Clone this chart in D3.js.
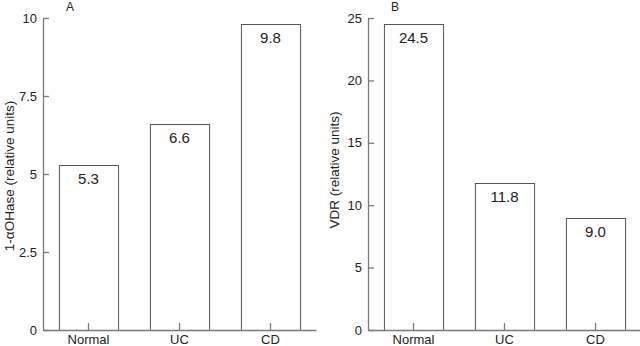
<!DOCTYPE html>
<html>
<head>
<meta charset="utf-8">
<script src="https://cdn.jsdelivr.net/npm/d3@7"></script>
<style>
  html, body { margin: 0; padding: 0; background: #fff; }
  svg { display: block; font-family: "Liberation Sans", Arial, sans-serif; }
</style>
</head>
<body>
<svg id="chart" width="640" height="346"></svg>
<script>
// ---- data ----
const categories = ["Normal", "UC", "CD"];
const valuesA = [5.3, 6.6, 9.8];
const valuesB = [24.5, 11.8, 9.0];
const labelsA = ["5.3", "6.6", "9.8"];
const labelsB = ["24.5", "11.8", "9.0"];
const ticksA = [0, 2.5, 5, 7.5, 10];
const tickLabelsA = ["0", "2.5", "5", "7.5", "10"];
const ticksB = [0, 5, 10, 15, 20, 25];
const tickLabelsB = ["0", "5", "10", "15", "20", "25"];

const svg = d3.select("#chart");
const axisColor = "#7a7a7a";
const barColor = "#555";

function panel(opt) {
  const x = d3.scaleBand().domain(categories).range([opt.x0, opt.x1]).paddingInner(0.35).paddingOuter(0.175);
  const y = d3.scaleLinear().domain([0, opt.max]).range([330, 18]);
  const g = svg.append("g");

  // bars
  g.selectAll("rect.bar").data(opt.values).join("rect")
    .attr("class", "bar")
    .attr("x", (d, i) => x(categories[i]) + 0.5)
    .attr("y", d => Math.round(y(d)) + 0.5)
    .attr("width", x.bandwidth())
    .attr("height", d => y(0) - Math.round(y(d)))
    .attr("fill", "#fff")
    .attr("stroke", barColor)
    .attr("stroke-width", 1);

  // value labels
  g.selectAll("text.val").data(opt.values).join("text")
    .attr("class", "val")
    .attr("x", (d, i) => x(categories[i]) + x.bandwidth() / 2)
    .attr("y", d => y(d) + 19)
    .attr("text-anchor", "middle")
    .attr("font-size", 15)
    .attr("fill", "#222")
    .text((d, i) => opt.labels[i]);

  // y axis
  const ya = g.append("g").attr("transform", `translate(${opt.x0},0)`)
    .call(d3.axisLeft(y).tickValues(opt.ticks).tickFormat((d, i) => opt.tickLabels[i])
      .tickSizeInner(-6).tickSizeOuter(0).tickPadding(6));
  ya.select(".domain").attr("stroke", axisColor).attr("stroke-width", 1.3);
  ya.selectAll(".tick line").attr("stroke", axisColor).attr("stroke-width", 1.3);
  ya.selectAll(".tick text").attr("font-size", 13).attr("fill", "#222").attr("font-family", "Liberation Sans, Arial, sans-serif");

  // x axis
  const xa = g.append("g").attr("transform", "translate(0,330)")
    .call(d3.axisBottom(x).tickSizeInner(-7).tickSizeOuter(0).tickPadding(5));
  xa.select(".domain").attr("stroke", axisColor).attr("stroke-width", 1.6);
  xa.selectAll(".tick line").attr("stroke", axisColor).attr("stroke-width", 1.3);
  xa.selectAll(".tick text").attr("font-size", 13).attr("fill", "#222").attr("font-family", "Liberation Sans, Arial, sans-serif");

  // panel letter
  g.append("text").attr("x", opt.letterX).attr("y", 11)
    .attr("font-size", 12).attr("fill", "#222").text(opt.letter);

  // y title
  g.append("text")
    .attr("transform", `translate(${opt.titleX},${opt.titleY}) rotate(-90)`)
    .attr("text-anchor", "middle")
    .attr("font-size", 13.5).attr("fill", "#222")
    .text(opt.title);
}

panel({ x0: 43, x1: 316, max: 10, values: valuesA, labels: labelsA, ticks: ticksA, tickLabels: tickLabelsA,
        letter: "A", letterX: 66, title: "1-αOHase (relative units)", titleX: 14, titleY: 176 });
panel({ x0: 368, x1: 641, max: 25, values: valuesB, labels: labelsB, ticks: ticksB, tickLabels: tickLabelsB,
        letter: "B", letterX: 391, title: "VDR (relative units)", titleX: 339, titleY: 170 });
</script>
</body>
</html>
